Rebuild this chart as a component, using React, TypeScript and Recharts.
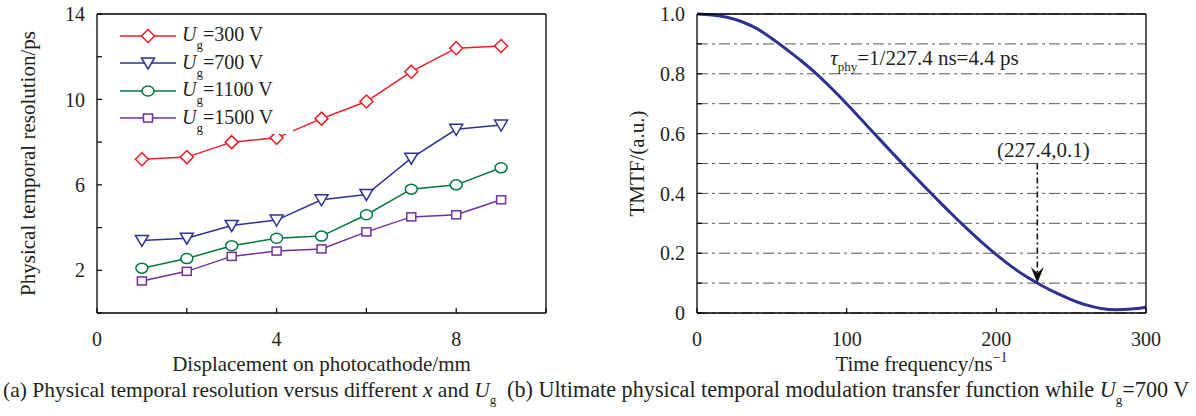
import {
  LineChart,
  Line,
  XAxis,
  YAxis,
  CartesianGrid,
  Legend,
  ReferenceLine,
  ReferenceDot,
} from "recharts";

const FONT = '"Liberation Serif", "Times New Roman", serif';
const INK = "#231f20";

// (a) temporal resolution vs displacement
const displacement = [1, 2, 3, 4, 5, 6, 7, 8, 9];
const res300 = [7.2, 7.3, 8.0, 8.2, 9.1, 9.9, 11.3, 12.4, 12.5];
const res700 = [3.4, 3.5, 4.1, 4.35, 5.3, 5.55, 7.25, 8.6, 8.8];
const res1100 = [2.1, 2.55, 3.15, 3.5, 3.6, 4.6, 5.8, 6.0, 6.8];
const res1500 = [1.5, 1.95, 2.65, 2.9, 3.0, 3.8, 4.5, 4.6, 5.3];
const xTicksA = [0, 2, 4, 6, 8, 10];
const xLabelsA = [0, 4, 8];
const yTicksA = [0, 2, 4, 6, 8, 10, 12, 14];
const yLabelsA = [2, 6, 10, 14];

// (b) TMTF curve
const frequency = [
  0, 10, 20, 30, 40, 50, 60, 70, 80, 90, 100, 110, 120, 130, 140, 150, 160,
  170, 180, 190, 200, 210, 220, 230, 240, 250, 260, 270, 280, 290, 300,
];
const tmtf = [
  1.0, 0.997, 0.989, 0.974, 0.951, 0.918, 0.881, 0.842, 0.799, 0.751, 0.7,
  0.646, 0.592, 0.538, 0.485, 0.433, 0.382, 0.332, 0.284, 0.238, 0.195, 0.156,
  0.122, 0.093, 0.067, 0.045, 0.027, 0.015, 0.011, 0.013, 0.019,
];
const xTicksB = [0, 100, 200, 300];
const yTicksB = [0, 0.1, 0.2, 0.3, 0.4, 0.5, 0.6, 0.7, 0.8, 0.9, 1.0];
const yLabelsB = [0, 0.2, 0.4, 0.6, 0.8, 1.0];
const cutoffFreq = 227.4;
const cutoffValue = 0.1;
const tauPs = 4.4;

const seriesA = [
  { key: "u300", volt: "300", values: res300, color: "#ed1c24", marker: "diamond" },
  { key: "u700", volt: "700", values: res700, color: "#2e3192", marker: "triangle" },
  { key: "u1100", volt: "1100", values: res1100, color: "#00783c", marker: "circle" },
  { key: "u1500", volt: "1500", values: res1500, color: "#7030a0", marker: "square" },
];

const dataA = displacement.map((x, i) => {
  const row: Record<string, number> = { x };
  seriesA.forEach((s) => (row[s.key] = s.values[i]));
  return row;
});

const dataB = frequency.map((f, i) => ({ f, v: tmtf[i] }));

const Marker = ({ kind, cx, cy, color }: any) => {
  const common = { fill: "#fff", stroke: color, strokeWidth: 1.5 };
  if (kind === "diamond")
    return <path d={`M${cx},${cy - 6.5}L${cx + 6.5},${cy}L${cx},${cy + 6.5}L${cx - 6.5},${cy}Z`} {...common} />;
  if (kind === "triangle")
    return <path d={`M${cx - 6.5},${cy - 5}L${cx + 6.5},${cy - 5}L${cx},${cy + 6}Z`} {...common} />;
  if (kind === "circle") return <ellipse cx={cx} cy={cy} rx={6} ry={5} {...common} />;
  return <rect x={cx - 4.5} y={cy - 4} width={9} height={8} {...common} />;
};

const LegendA = () => (
  <div
    style={{
      background: "#fff",
      padding: "4px 0 2px 8px",
      fontFamily: FONT,
      fontSize: 20,
      color: INK,
    }}
  >
    {seriesA.map((s) => (
      <div key={s.key} style={{ display: "flex", alignItems: "center", height: 27.5 }}>
        <svg width={56} height={20}>
          <line x1={0} y1={10} x2={56} y2={10} stroke={s.color} strokeWidth={1.5} />
          <Marker kind={s.marker} cx={28} cy={10} color={s.color} />
        </svg>
        <span style={{ marginLeft: 6, lineHeight: "20px", whiteSpace: "nowrap" }}>
          <i>U</i>
          <span style={{ fontSize: 13, position: "relative", top: 8 }}>g</span>=
          {s.volt} V
        </span>
      </div>
    ))}
  </div>
);

const tickStyle = { fill: INK, fontSize: 20, fontFamily: FONT };
const axisLine = { stroke: "#000", strokeWidth: 1.3 };
const tickLine = { stroke: "#000", strokeWidth: 1.2 };

const YTitle = ({ viewBox, text, offset }: any) => {
  const cx = viewBox.x + offset;
  const cy = viewBox.y + viewBox.height / 2;
  return (
    <text
      x={cx}
      y={cy}
      transform={`rotate(-90, ${cx}, ${cy})`}
      textAnchor="middle"
      dominantBaseline="central"
      fontSize={21}
      fontFamily={FONT}
      fill={INK}
    >
      {text}
    </text>
  );
};

const XTitle = ({ viewBox, children }: any) => (
  <text
    x={viewBox.x + viewBox.width / 2}
    y={viewBox.y + 58}
    textAnchor="middle"
    fontSize={21}
    fontFamily={FONT}
    fill={INK}
  >
    {children}
  </text>
);

const ArrowShape = (p: any) => {
  const x = p.x1;
  const top = Math.min(p.y1, p.y2);
  const tip = Math.max(p.y1, p.y2);
  return (
    <g>
      <line x1={x} y1={top} x2={x} y2={tip - 10} stroke="#111" strokeWidth={1.6} strokeDasharray="6 3 2 3" />
      <path d={`M${x},${tip}L${x - 6.5},${tip - 16}L${x},${tip - 10}L${x + 6.5},${tip - 16}Z`} fill="#111" />
    </g>
  );
};

const ChartA = () => (
  <LineChart width={560} height={380} data={dataA} margin={{ top: 13, right: 13, bottom: 8, left: 0 }}>
    <XAxis
      dataKey="x"
      type="number"
      domain={[0, 10]}
      ticks={xTicksA}
      interval={0}
      tickFormatter={(v) => (xLabelsA.includes(v) ? String(v) : "")}
      tick={tickStyle}
      tickSize={-5}
      tickMargin={24}
      axisLine={axisLine}
      tickLine={tickLine}
      height={59}
      label={{ content: (p: any) => <XTitle viewBox={p.viewBox}>Displacement on photocathode/mm</XTitle> }}
    />
    <XAxis
      xAxisId="top"
      orientation="top"
      type="number"
      domain={[0, 10]}
      ticks={xTicksA}
      interval={0}
      tick={false}
      tickSize={-5}
      axisLine={axisLine}
      tickLine={tickLine}
      height={1}
    />
    <YAxis
      type="number"
      domain={[0, 14]}
      ticks={yTicksA}
      interval={0}
      tickFormatter={(v) => (yLabelsA.includes(v) ? String(v) : "")}
      tick={tickStyle}
      tickSize={-5}
      tickMargin={17}
      axisLine={axisLine}
      tickLine={tickLine}
      width={97}
      label={{ content: (p: any) => <YTitle viewBox={p.viewBox} offset={28} text="Physical temporal resolution/ps" /> }}
    />
    <YAxis
      yAxisId="right"
      orientation="right"
      type="number"
      domain={[0, 14]}
      ticks={yTicksA}
      interval={0}
      tick={false}
      tickSize={-5}
      axisLine={axisLine}
      tickLine={tickLine}
      width={1}
    />
    {seriesA.map((s) => (
      <Line
        key={s.key}
        dataKey={s.key}
        type="linear"
        stroke={s.color}
        strokeWidth={1.5}
        isAnimationActive={false}
        dot={(p: any) => <Marker key={`${s.key}-${p.index}`} kind={s.marker} cx={p.cx} cy={p.cy} color={s.color} />}
      />
    ))}
    <Legend
      content={() => <LegendA />}
      layout="vertical"
      align="center"
      verticalAlign="middle"
      wrapperStyle={{ left: 112, top: 18, width: 181 }}
    />
  </LineChart>
);

const ChartB = () => (
  <LineChart width={596} height={380} data={dataB} margin={{ top: 13, right: 49, bottom: 8, left: 0 }}>
    <CartesianGrid vertical={false} stroke="#555" strokeWidth={1} strokeDasharray="11 4 3 4" />
    <XAxis
      dataKey="f"
      type="number"
      domain={[0, 300]}
      ticks={xTicksB}
      interval={0}
      tick={tickStyle}
      tickSize={-5}
      tickMargin={24}
      axisLine={axisLine}
      tickLine={tickLine}
      height={59}
      label={{
        content: (p: any) => (
          <XTitle viewBox={p.viewBox}>
            Time frequency/ns
            <tspan fontSize={14} dy={-9}>−1</tspan>
          </XTitle>
        ),
      }}
    />
    <XAxis
      xAxisId="top"
      orientation="top"
      type="number"
      domain={[0, 300]}
      ticks={xTicksB}
      interval={0}
      tick={false}
      tickSize={-5}
      axisLine={axisLine}
      tickLine={tickLine}
      height={1}
    />
    <YAxis
      type="number"
      domain={[0, 1]}
      ticks={yTicksB}
      interval={0}
      tickFormatter={(v) =>
        yLabelsB.some((l) => Math.abs(l - v) < 1e-9) ? (v === 0 ? "0" : v.toFixed(1)) : ""
      }
      tick={tickStyle}
      tickSize={-5}
      tickMargin={17}
      axisLine={axisLine}
      tickLine={tickLine}
      width={97}
      label={{ content: (p: any) => <YTitle viewBox={p.viewBox} offset={37} text="TMTF/(a.u.)" /> }}
    />
    <YAxis
      yAxisId="right"
      orientation="right"
      type="number"
      domain={[0, 1]}
      ticks={yTicksB}
      interval={0}
      tick={false}
      tickSize={-5}
      axisLine={axisLine}
      tickLine={tickLine}
      width={1}
    />
    <Line dataKey="v" type="monotone" stroke="#2e3192" strokeWidth={3} dot={false} isAnimationActive={false} />
    <ReferenceLine
      segment={[
        { x: cutoffFreq, y: 0.5 },
        { x: cutoffFreq, y: cutoffValue },
      ]}
      shape={ArrowShape}
    />
    <ReferenceDot
      x={cutoffFreq}
      y={0.5}
      r={0}
      shape={(p: any) => (
        <text x={p.cx + 6} y={p.cy - 7} textAnchor="middle" fontSize={21} fontFamily={FONT} fill={INK}>
          ({cutoffFreq},{cutoffValue})
        </text>
      )}
    />
    <ReferenceDot
      x={89}
      y={0.83}
      r={0}
      shape={(p: any) => (
        <text x={p.cx} y={p.cy} fontSize={21} fontFamily={FONT} fill={INK}>
          <tspan fontStyle="italic">τ</tspan>
          <tspan fontSize={13} dy={6}>phy</tspan>
          <tspan dy={-6}>=1/{cutoffFreq} ns={tauPs} ps</tspan>
        </text>
      )}
    />
  </LineChart>
);

const Caption = ({ left, size, children }: any) => (
  <div
    style={{
      position: "absolute",
      left,
      top: 380,
      fontFamily: FONT,
      fontSize: size,
      lineHeight: "20px",
      color: INK,
      whiteSpace: "nowrap",
    }}
  >
    {children}
  </div>
);

const Sub = ({ children }: any) => (
  <span style={{ fontSize: 13, position: "relative", top: 7 }}>{children}</span>
);

export default function App() {
  return (
    <div style={{ position: "absolute", left: 0, top: 0, width: 1196, height: 416, background: "#fff" }}>
      <div style={{ position: "absolute", left: 0, top: 0 }}>
        <ChartA />
      </div>
      <div style={{ position: "absolute", left: 600, top: 0 }}>
        <ChartB />
      </div>
      <Caption left={3} size={21.5}>
        (a) Physical temporal resolution versus different <i>x</i> and <i>U</i>
        <Sub>g</Sub>
      </Caption>
      <Caption left={507} size={22.2}>
        (b) Ultimate physical temporal modulation transfer function while <i>U</i>
        <Sub>g</Sub>=700 V
      </Caption>
    </div>
  );
}
